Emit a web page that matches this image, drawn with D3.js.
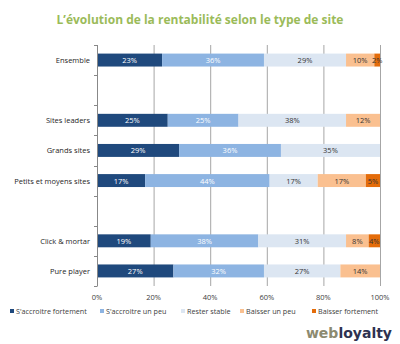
<!DOCTYPE html>
<html>
<head>
<meta charset="utf-8">
<style>
  body { margin: 0; background: white; }
  text { font-family: "Open Sans", sans-serif; }
</style>
</head>
<body>
<script src="https://cdnjs.cloudflare.com/ajax/libs/d3/7.8.5/d3.min.js"></script>
<script>
// categories (blank rows are spacers)
var categories = ["Ensemble", "", "Sites leaders", "Grands sites", "Petits et moyens sites", " ", "Click & mortar", "Pure player"];
var seriesNames = ["S'accroitre fortement", "S'accroitre un peu", "Rester stable", "Baisser un peu", "Baisser fortement"];
var seriesColors = ["#1f497d", "#8db4e2", "#dce6f2", "#fac090", "#e46c0a"];
var labelColors = ["#fff", "#fff", "#333", "#333", "#333"];
// values per series, in category order
var fortementHaut = [23, 0, 25, 29, 17, 0, 19, 27];
var unPeuHaut     = [36, 0, 25, 36, 44, 0, 38, 32];
var stable        = [29, 0, 38, 35, 17, 0, 31, 27];
var unPeuBas      = [10, 0, 12, 0, 17, 0, 8, 14];
var fortementBas  = [2, 0, 0, 0, 5, 0, 4, 0];
var xTicks = [0, 20, 40, 60, 80, 100];

var series = [fortementHaut, unPeuHaut, stable, unPeuBas, fortementBas];

var svg = d3.select("body").append("svg")
    .attr("width", 400)
    .attr("height", 344);

// title
svg.append("text")
    .attr("x", 200)
    .attr("y", 24)
    .attr("text-anchor", "middle")
    .style("font-size", "12px")
    .style("font-weight", "bold")
    .style("fill", "#9bbb59")
    .text("L’évolution de la rentabilité selon le type de site");

var x = d3.scaleLinear().domain([0, 100]).range([97, 380]);
var y = d3.scaleBand().domain(categories).range([45, 286]).paddingInner(0.57).paddingOuter(0.285);

// gridlines
svg.selectAll("line.grid")
    .data(xTicks.slice(1))
    .enter().append("line")
    .attr("class", "grid")
    .attr("x1", function(d) { return x(d) + 0.5; })
    .attr("x2", function(d) { return x(d) + 0.5; })
    .attr("y1", 45)
    .attr("y2", 286)
    .style("stroke", "#a6a6a6");

// x tick labels
svg.selectAll("text.xtick")
    .data(xTicks)
    .enter().append("text")
    .attr("class", "xtick")
    .attr("x", function(d) { return x(d); })
    .attr("y", 300)
    .attr("text-anchor", "middle")
    .style("font-size", "7.5px")
    .style("fill", "#404040")
    .text(function(d) { return d + "%"; });

// stacked bars
var rows = categories.map(function(c, i) {
  var start = 0;
  return series.map(function(s, k) {
    var seg = { cat: c, k: k, v: s[i], x0: start, x1: start + s[i] };
    start += s[i];
    return seg;
  });
});
var segs = d3.merge(rows).filter(function(d) { return d.v > 0; });

svg.selectAll("rect.bar")
    .data(segs)
    .enter().append("rect")
    .attr("class", "bar")
    .attr("x", function(d) { return x(d.x0); })
    .attr("width", function(d) { return x(d.x1) - x(d.x0); })
    .attr("y", function(d) { return y(d.cat); })
    .attr("height", y.bandwidth())
    .style("fill", function(d) { return seriesColors[d.k]; });

svg.selectAll("text.val")
    .data(segs)
    .enter().append("text")
    .attr("class", "val")
    .attr("x", function(d) { return (x(d.x0) + x(d.x1)) / 2; })
    .attr("y", function(d) { return y(d.cat) + y.bandwidth() / 2 + 3; })
    .attr("text-anchor", "middle")
    .style("font-size", "7.5px")
    .style("fill", function(d) { return labelColors[d.k]; })
    .text(function(d) { return d.v + "%"; });

// y axis
var yTickPos = d3.range(categories.length + 1).map(function(i) { return 45 + i * y.step(); });
svg.append("line")
    .attr("x1", 97.5).attr("x2", 97.5)
    .attr("y1", 45).attr("y2", 286)
    .style("stroke", "#888");
svg.selectAll("line.ytick")
    .data(yTickPos)
    .enter().append("line")
    .attr("class", "ytick")
    .attr("x1", 94).attr("x2", 97.5)
    .attr("y1", function(d) { return Math.round(d) + 0.5; })
    .attr("y2", function(d) { return Math.round(d) + 0.5; })
    .style("stroke", "#888");
svg.selectAll("text.cat")
    .data(categories.filter(function(c) { return c.trim() !== ""; }))
    .enter().append("text")
    .attr("class", "cat")
    .attr("x", 90)
    .attr("y", function(d) { return y(d) + y.bandwidth() / 2 + 3; })
    .attr("text-anchor", "end")
    .style("font-size", "7.5px")
    .style("fill", "#262626")
    .text(function(d) { return d; });

// legend
var legendX = [10, 100, 181, 240, 312];
var leg = svg.selectAll("g.leg")
    .data(seriesNames)
    .enter().append("g")
    .attr("class", "leg")
    .attr("transform", function(d, i) { return "translate(" + legendX[i] + ",313)"; });
leg.append("rect")
    .attr("x", 0).attr("y", -4)
    .attr("width", 4).attr("height", 4)
    .style("fill", function(d, i) { return seriesColors[i]; });
leg.append("text")
    .attr("x", 6)
    .attr("y", 0.5)
    .style("font-size", "7.2px")
    .style("fill", "#404040")
    .text(function(d) { return d; });

// logo
var logo = svg.append("text")
    .attr("x", 392)
    .attr("y", 338)
    .attr("text-anchor", "end")
    .style("font-family", "'DejaVu Sans', sans-serif")
    .style("font-size", "14px")
    .style("font-weight", "bold");
logo.append("tspan").style("fill", "#8c8a70").text("web");
logo.append("tspan").style("fill", "#2e3250").text("loyalty");
</script>
</body>
</html>
